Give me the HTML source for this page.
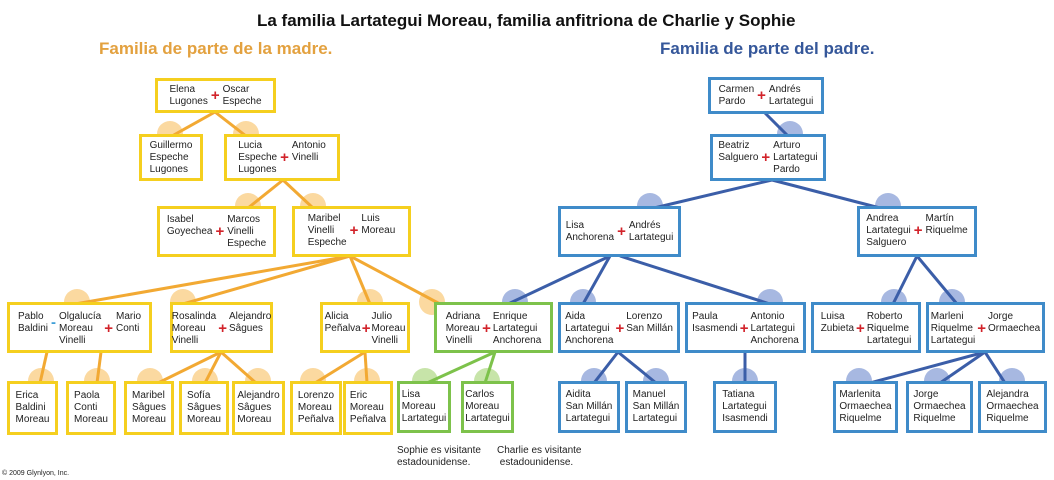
<!DOCTYPE html>
<html><head><meta charset="utf-8"><style>
*{margin:0;padding:0;box-sizing:border-box}
body{width:1054px;height:480px;background:#fff;position:relative;overflow:hidden;font-family:"Liberation Sans",Arial,sans-serif;color:#222}
.t{position:absolute;font-family:"Liberation Sans Narrow","Liberation Sans",sans-serif;font-weight:bold;white-space:nowrap}
.b{position:absolute;background:#fff;border:3px solid #f5cf1f;font-size:10px;line-height:12px;display:flex;align-items:center;justify-content:center;gap:3px;padding:0 3px;white-space:nowrap}
.bl{border-color:#3f8bc9}.gr{border-color:#7dc24b}
.p{color:#d2232a;font-size:15px;font-weight:bold;line-height:12px}
.m{color:#3f9fd8;font-size:15px;font-weight:bold}
.c{display:flex;flex-direction:column;justify-content:center;white-space:nowrap}
.n{position:absolute;font-size:10px;line-height:12px;white-space:nowrap}
</style></head><body>
<svg width="1054" height="480" style="position:absolute;left:0;top:0">
<g fill="#fbd9a0">
<circle cx="170" cy="134" r="13"/><circle cx="246" cy="134" r="13"/>
<circle cx="248" cy="206" r="13"/><circle cx="313" cy="206" r="13"/>
<circle cx="77" cy="302" r="13"/><circle cx="183" cy="302" r="13"/><circle cx="370" cy="302" r="13"/><circle cx="432" cy="302" r="13"/>
<circle cx="41" cy="381" r="13"/><circle cx="97" cy="381" r="13"/><circle cx="150" cy="381" r="13"/><circle cx="205" cy="381" r="13"/><circle cx="258" cy="381" r="13"/><circle cx="313" cy="381" r="13"/><circle cx="367" cy="381" r="13"/>
</g>
<g fill="#c7e4a9"><circle cx="425" cy="381" r="13"/><circle cx="487" cy="381" r="13"/></g>
<g fill="#a7b8e1">
<circle cx="790" cy="134" r="13"/><circle cx="650" cy="206" r="13"/><circle cx="888" cy="206" r="13"/>
<circle cx="515" cy="302" r="13"/><circle cx="583" cy="302" r="13"/><circle cx="770" cy="302" r="13"/><circle cx="894" cy="302" r="13"/><circle cx="952" cy="302" r="13"/>
<circle cx="594" cy="381" r="13"/><circle cx="656" cy="381" r="13"/><circle cx="745" cy="381" r="13"/><circle cx="859" cy="381" r="13"/><circle cx="937" cy="381" r="13"/><circle cx="1012" cy="381" r="13"/>
</g>
<g stroke="#f2a933" stroke-width="3">
<line x1="215" y1="112" x2="172" y2="136"/><line x1="215" y1="112" x2="246" y2="136"/>
<line x1="283" y1="180" x2="248" y2="208"/><line x1="283" y1="180" x2="313" y2="208"/>
<line x1="350" y1="256" x2="75" y2="304"/><line x1="350" y1="256" x2="183" y2="304"/><line x1="350" y1="256" x2="370" y2="304"/><line x1="350" y1="256" x2="440" y2="304"/>
<line x1="47" y1="352" x2="40" y2="383"/><line x1="101" y1="352" x2="97" y2="383"/>
<line x1="221" y1="352" x2="158" y2="383"/><line x1="221" y1="352" x2="205" y2="383"/><line x1="221" y1="352" x2="256" y2="383"/>
<line x1="365" y1="352" x2="315" y2="383"/><line x1="365" y1="352" x2="367" y2="383"/>
</g>
<g stroke="#7dc24b" stroke-width="3"><line x1="495" y1="352" x2="427" y2="383"/><line x1="495" y1="352" x2="485" y2="383"/></g>
<g stroke="#3b5ea8" stroke-width="3">
<line x1="765" y1="113" x2="788" y2="136"/>
<line x1="772" y1="180" x2="654" y2="208"/><line x1="772" y1="180" x2="880" y2="208"/>
<line x1="610" y1="256" x2="508" y2="304"/><line x1="610" y1="256" x2="583" y2="304"/><line x1="620" y1="256" x2="770" y2="304"/>
<line x1="917" y1="256" x2="893" y2="304"/><line x1="917" y1="256" x2="957" y2="304"/>
<line x1="618" y1="352" x2="594" y2="383"/><line x1="618" y1="352" x2="656" y2="383"/>
<line x1="745" y1="352" x2="745" y2="383"/>
<line x1="985" y1="352" x2="870" y2="383"/><line x1="985" y1="352" x2="940" y2="383"/><line x1="985" y1="352" x2="1005" y2="383"/>
</g>
</svg>
<div class="t" style="left:257px;top:11px;font-size:17px;color:#111">La familia Lartategui Moreau, familia anfitriona de Charlie y Sophie</div>
<div class="t" style="left:99px;top:39px;font-size:17px;color:#e3a13f">Familia de parte de la madre.</div>
<div class="t" style="left:660px;top:39px;font-size:17px;color:#35579a">Familia de parte del padre.</div>

<div class="b" style="left:155px;top:78px;width:121px;height:35px"><div class="c">Elena<br>Lugones</div><span class="p">+</span><div class="c">Oscar<br>Espeche</div></div>
<div class="b" style="left:139px;top:134px;width:64px;height:47px"><div class="c">Guillermo<br>Espeche<br>Lugones</div></div>
<div class="b" style="left:224px;top:134px;width:116px;height:47px;align-items:flex-start;padding-top:3px"><div class="c">Lucia<br>Espeche<br>Lugones</div><span class="p" style="margin-top:12px">+</span><div class="c">Antonio<br>Vinelli</div></div>
<div class="b" style="left:157px;top:206px;width:119px;height:51px"><div class="c">Isabel<br>Goyechea<br>&nbsp;</div><span class="p">+</span><div class="c">Marcos<br>Vinelli<br>Espeche</div></div>
<div class="b" style="left:292px;top:206px;width:119px;height:51px;align-items:flex-start;padding-top:4px"><div class="c">Maribel<br>Vinelli<br>Espeche</div><span class="p" style="margin-top:12px">+</span><div class="c">Luis<br>Moreau</div></div>

<div class="b" style="left:7px;top:302px;width:145px;height:51px;align-items:flex-start;padding-top:6px"><div class="c">Pablo<br>Baldini</div><span class="m" style="margin-top:6px">-</span><div class="c">Olgalucía<br>Moreau<br>Vinelli</div><span class="p" style="margin-top:12px">+</span><div class="c">Mario<br>Conti</div></div>
<div class="b" style="left:170px;top:302px;width:103px;height:51px;align-items:flex-start;padding-top:6px;gap:2px"><div class="c">Rosalinda<br>Moreau<br>Vinelli</div><span class="p" style="margin-top:12px">+</span><div class="c">Alejandro<br>Sâgues</div></div>
<div class="b" style="left:320px;top:302px;width:90px;height:51px;align-items:flex-start;padding-top:6px;gap:1px;padding-left:1px;padding-right:1px"><div class="c">Alicia<br>Peñalva</div><span class="p" style="margin-top:12px">+</span><div class="c">Julio<br>Moreau<br>Vinelli</div></div>
<div class="b gr" style="left:434px;top:302px;width:119px;height:51px;align-items:flex-start;padding-top:6px;gap:2px"><div class="c">Adriana<br>Moreau<br>Vinelli</div><span class="p" style="margin-top:12px">+</span><div class="c">Enrique<br>Lartategui<br>Anchorena</div></div>

<div class="b" style="left:7px;top:381px;width:51px;height:54px"><div class="c">Erica<br>Baldini<br>Moreau</div></div>
<div class="b" style="left:66px;top:381px;width:50px;height:54px"><div class="c">Paola<br>Conti<br>Moreau</div></div>
<div class="b" style="left:124px;top:381px;width:50px;height:54px"><div class="c">Maribel<br>Sâgues<br>Moreau</div></div>
<div class="b" style="left:179px;top:381px;width:50px;height:54px"><div class="c">Sofía<br>Sâgues<br>Moreau</div></div>
<div class="b" style="left:232px;top:381px;width:53px;height:54px"><div class="c">Alejandro<br>Sâgues<br>Moreau</div></div>
<div class="b" style="left:290px;top:381px;width:52px;height:54px"><div class="c">Lorenzo<br>Moreau<br>Peñalva</div></div>
<div class="b" style="left:343px;top:381px;width:50px;height:54px"><div class="c">Eric<br>Moreau<br>Peñalva</div></div>
<div class="b gr" style="left:397px;top:381px;width:54px;height:52px"><div class="c">Lisa<br>Moreau<br>Lartategui</div></div>
<div class="b gr" style="left:461px;top:381px;width:53px;height:52px"><div class="c">Carlos<br>Moreau<br>Lartategui</div></div>

<div class="n" style="left:397px;top:445px">Sophie es visitante<br>estadounidense.</div>
<div class="n" style="left:497px;top:445px">Charlie es visitante<br>&nbsp;estadounidense.</div>
<div class="n" style="left:2px;top:470px;font-size:7px;line-height:8px">© 2009 Glynlyon, Inc.</div>

<div class="b bl" style="left:708px;top:77px;width:116px;height:37px"><div class="c">Carmen<br>Pardo</div><span class="p">+</span><div class="c">Andrés<br>Lartategui</div></div>
<div class="b bl" style="left:710px;top:134px;width:116px;height:47px"><div class="c">Beatriz<br>Salguero<br>&nbsp;</div><span class="p">+</span><div class="c">Arturo<br>Lartategui<br>Pardo</div></div>
<div class="b bl" style="left:558px;top:206px;width:123px;height:51px"><div class="c">Lisa<br>Anchorena</div><span class="p">+</span><div class="c">Andrés<br>Lartategui</div></div>
<div class="b bl" style="left:857px;top:206px;width:120px;height:51px;align-items:flex-start;padding-top:4px"><div class="c">Andrea<br>Lartategui<br>Salguero</div><span class="p" style="margin-top:12px">+</span><div class="c">Martín<br>Riquelme</div></div>

<div class="b bl" style="left:558px;top:302px;width:122px;height:51px;align-items:flex-start;padding-top:6px;gap:2px"><div class="c">Aida<br>Lartategui<br>Anchorena</div><span class="p" style="margin-top:12px">+</span><div class="c">Lorenzo<br>San Millán</div></div>
<div class="b bl" style="left:685px;top:302px;width:121px;height:51px;align-items:flex-start;padding-top:6px;gap:2px"><div class="c">Paula<br>Isasmendi</div><span class="p" style="margin-top:12px">+</span><div class="c">Antonio<br>Lartategui<br>Anchorena</div></div>
<div class="b bl" style="left:811px;top:302px;width:110px;height:51px;align-items:flex-start;padding-top:6px;gap:2px"><div class="c">Luisa<br>Zubieta</div><span class="p" style="margin-top:12px">+</span><div class="c">Roberto<br>Riquelme<br>Lartategui</div></div>
<div class="b bl" style="left:926px;top:302px;width:119px;height:51px;align-items:flex-start;padding-top:6px;gap:2px"><div class="c">Marleni<br>Riquelme<br>Lartategui</div><span class="p" style="margin-top:12px">+</span><div class="c">Jorge<br>Ormaechea</div></div>

<div class="b bl" style="left:558px;top:381px;width:62px;height:52px"><div class="c">Aidita<br>San Millán<br>Lartategui</div></div>
<div class="b bl" style="left:625px;top:381px;width:62px;height:52px"><div class="c">Manuel<br>San Millán<br>Lartategui</div></div>
<div class="b bl" style="left:713px;top:381px;width:64px;height:52px"><div class="c">Tatiana<br>Lartategui<br>Isasmendi</div></div>
<div class="b bl" style="left:833px;top:381px;width:65px;height:52px"><div class="c">Marlenita<br>Ormaechea<br>Riquelme</div></div>
<div class="b bl" style="left:906px;top:381px;width:67px;height:52px"><div class="c">Jorge<br>Ormaechea<br>Riquelme</div></div>
<div class="b bl" style="left:978px;top:381px;width:69px;height:52px"><div class="c">Alejandra<br>Ormaechea<br>Riquelme</div></div>
</body></html>
